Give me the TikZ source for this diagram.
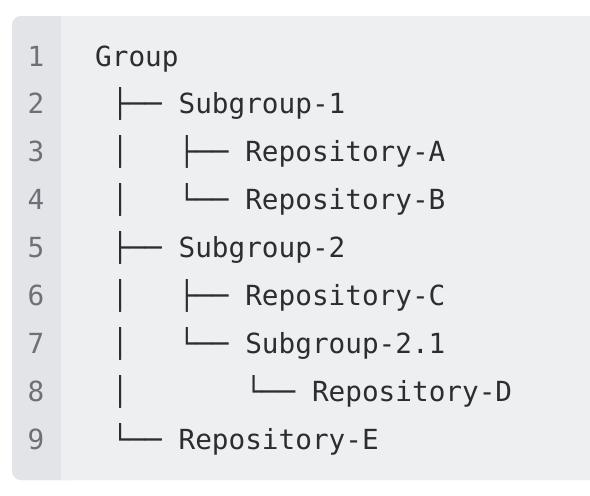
\documentclass[tikz,border=0pt]{standalone}
\usepackage{fontspec}
\setmonofont{DejaVu Sans Mono}
\definecolor{panelbg}{HTML}{EEEFF1}
\definecolor{gutterbg}{HTML}{E3E4E7}
\definecolor{codefg}{HTML}{2B2D30}
\definecolor{numfg}{HTML}{6E7079}
\tikzset{
  code/.style={anchor=base west, inner sep=0pt, text=codefg, font=\ttfamily\fontsize{27.7}{30}\selectfont},
  lnum/.style={anchor=base, inner sep=0pt, text=numfg, font=\ttfamily\fontsize{27.7}{30}\selectfont},
}
\begin{document}
\begin{tikzpicture}[x=1pt,y=-1pt]
\useasboundingbox (0,0) rectangle (590,496);
\fill[white] (0,0) rectangle (590,496);
% panel
\fill[panelbg, rounded corners=9pt] (12,16) rectangle (620,480);
\fill[gutterbg, rounded corners=9pt] (12,16) rectangle (80,480);
\fill[panelbg] (61,16) rectangle (90,480);
% line numbers
\foreach \i in {1,...,9} {
  \node[lnum] (num\i) at (36,{66+(\i-1)*47.9}) {\i};
}
\def\cw{16.68}
% line 1
\node[code] (n1) at (95,66) {Group};
% line 2
\node[code] (t2a) at ({95+1*\cw},{66+1*47.9}) {├──};
\node[code] (n2) at ({95+5*\cw},{66+1*47.9}) {Subgroup-1};
% line 3
\node[code] (t3a) at ({95+1*\cw},{66+2*47.9}) {│};
\node[code] (t3b) at ({95+5*\cw},{66+2*47.9}) {├──};
\node[code] (n3) at ({95+9*\cw},{66+2*47.9}) {Repository-A};
% line 4
\node[code] (t4a) at ({95+1*\cw},{66+3*47.9}) {│};
\node[code] (t4b) at ({95+5*\cw},{66+3*47.9}) {└──};
\node[code] (n4) at ({95+9*\cw},{66+3*47.9}) {Repository-B};
% line 5
\node[code] (t5a) at ({95+1*\cw},{66+4*47.9}) {├──};
\node[code] (n5) at ({95+5*\cw},{66+4*47.9}) {Subgroup-2};
% line 6
\node[code] (t6a) at ({95+1*\cw},{66+5*47.9}) {│};
\node[code] (t6b) at ({95+5*\cw},{66+5*47.9}) {├──};
\node[code] (n6) at ({95+9*\cw},{66+5*47.9}) {Repository-C};
% line 7
\node[code] (t7a) at ({95+1*\cw},{66+6*47.9}) {│};
\node[code] (t7b) at ({95+5*\cw},{66+6*47.9}) {└──};
\node[code] (n7) at ({95+9*\cw},{66+6*47.9}) {Subgroup-2.1};
% line 8
\node[code] (t8a) at ({95+1*\cw},{66+7*47.9}) {│};
\node[code] (t8b) at ({95+9*\cw},{66+7*47.9}) {└──};
\node[code] (n8) at ({95+13*\cw},{66+7*47.9}) {Repository-D};
% line 9
\node[code] (t9a) at ({95+1*\cw},{66+8*47.9}) {└──};
\node[code] (n9) at ({95+5*\cw},{66+8*47.9}) {Repository-E};
\end{tikzpicture}
\end{document}
